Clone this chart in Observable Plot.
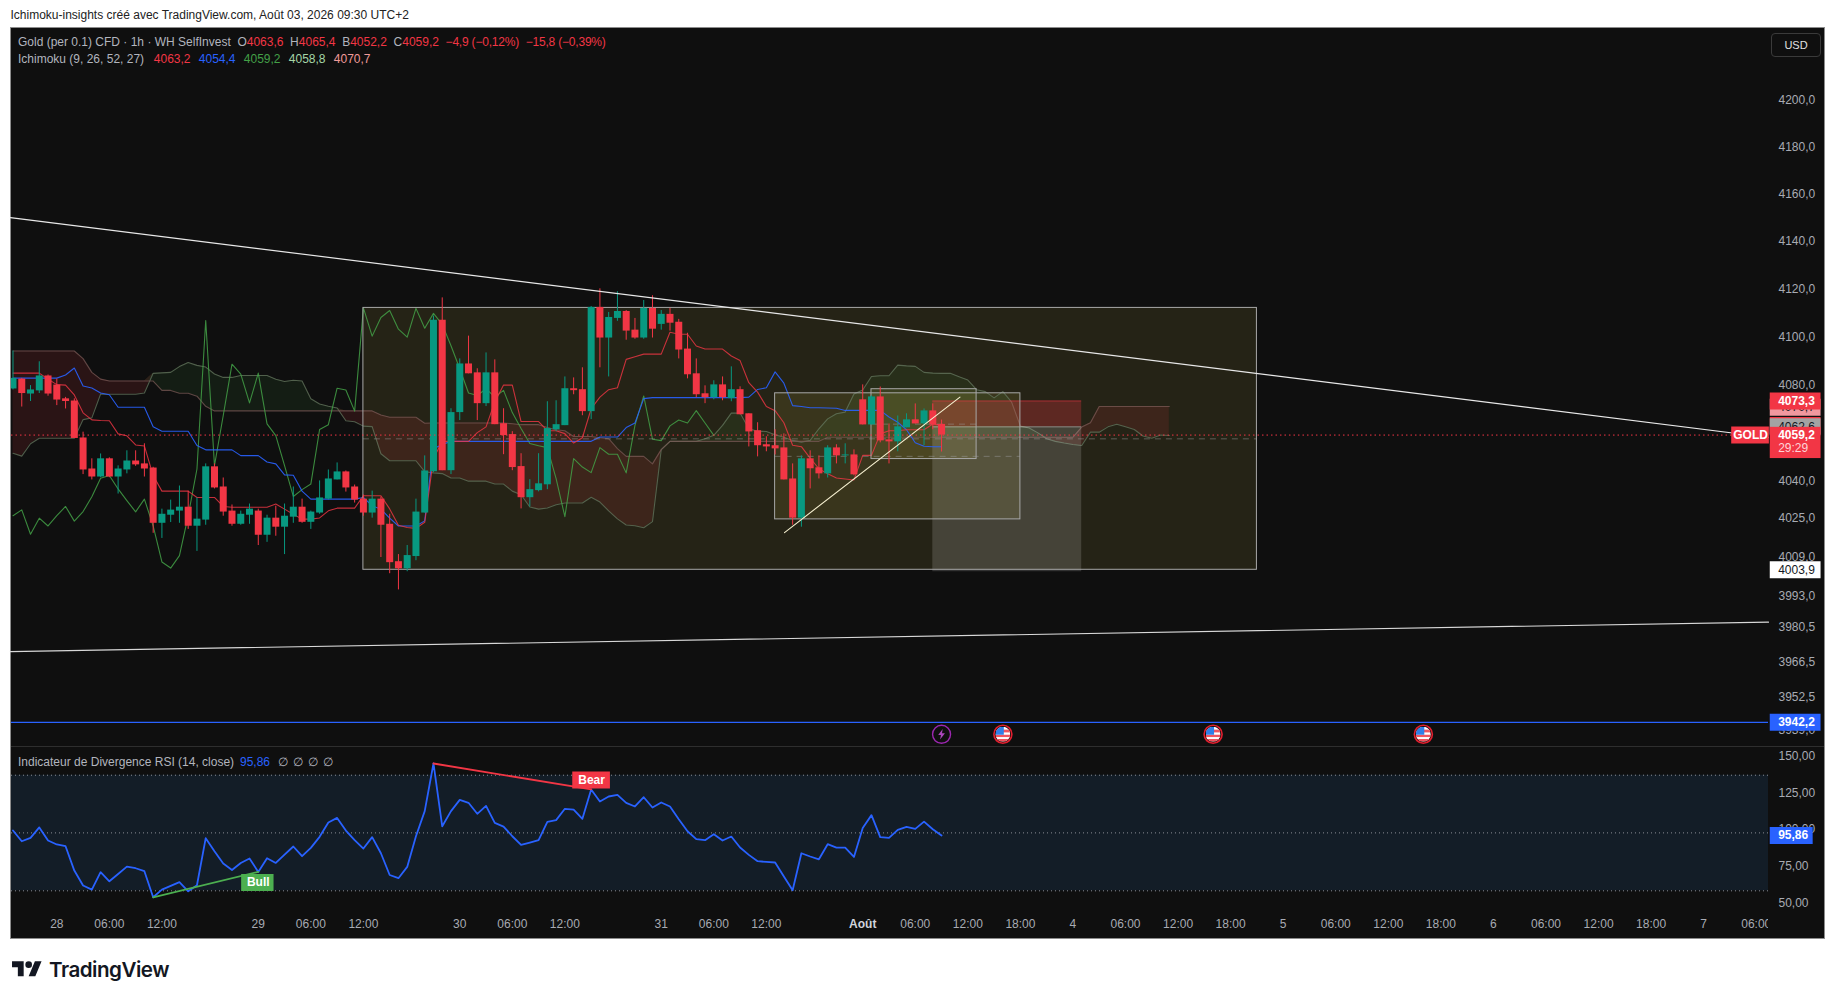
<!DOCTYPE html>
<html lang="fr">
<head>
<meta charset="utf-8">
<title>Gold CFD Ichimoku</title>
<script src="https://cdn.jsdelivr.net/npm/d3@7"></script>
<script src="https://cdn.jsdelivr.net/npm/@observablehq/plot@0.6"></script>
<style>
html,body{margin:0;padding:0;background:#fff;width:1835px;height:1000px;overflow:hidden;font-family:"Liberation Sans",Arial,sans-serif}
#head{position:absolute;left:10.5px;top:8px;font-size:12px;color:#222;white-space:pre;line-height:14px}
#pane{position:absolute;left:10px;top:27px;width:1813px;height:910px;background:#0f0f0f;border:1px solid #8c8c8c}
#divider{position:absolute;left:11px;top:746px;width:1813px;height:1px;background:#2e2e2e}
#price,#rsi{position:absolute;left:0}
#price{top:-1px}
#rsi{top:747px}
#legend{position:absolute;left:18px;top:34px;font-size:12px;line-height:17px;color:#b2b5be;white-space:pre}
#legend .r{color:#f23645}#legend .b{color:#2962ff}#legend .g{color:#43a047}#legend .lg{color:#a5d6a7}#legend .p{color:#ef9a9a}
#legend .t{letter-spacing:-.2px}
#legend i,#rsilegend i{display:inline-block;font-style:normal}
#legend .w{width:45px}
#rsilegend{position:absolute;left:18px;top:754px;font-size:12px;line-height:17px;color:#b2b5be;white-space:pre}
#rsilegend .b{color:#2962ff}
#usd{position:absolute;left:1771px;top:33px;width:48px;height:22px;border:1px solid #3a3a3a;border-radius:4px;color:#e0e0e0;font-size:11px;line-height:22px;text-align:center}
#brand{position:absolute;left:12px;top:957.5px;display:flex;align-items:flex-start}
#brand span{font-family:Inter,"Liberation Sans",sans-serif;font-weight:600;font-size:20.6px;line-height:24px;color:#131722;margin-left:7px;letter-spacing:-.5px}
</style>
</head>
<body>
<div id="head">Ichimoku-insights créé avec TradingView.com, Août 03, 2026 09:30 UTC+2</div>
<div id="pane"></div>
<div id="price"></div>
<div id="divider"></div>
<div id="rsi"></div>
<div id="legend">Gold (per 0.1) CFD · 1h · WH SelfInvest  O<span class="r">4063,6</span>  H<span class="r">4065,4</span>  B<span class="r">4052,2</span>  C<span class="r">4059,2</span>  <span class="r t">−4,9 (−0,12%)</span>  <span class="r t">−15,8 (−0,39%)</span>
<i style="width:135.8px">Ichimoku (9, 26, 52, 27)</i><i class="r w">4063,2</i><i class="b w">4054,4</i><i class="g w">4059,2</i><i class="lg w">4058,8</i><i class="p w">4070,7</i></div>
<div id="rsilegend"><i style="width:222px">Indicateur de Divergence RSI (14, close)</i><i class="b" style="width:37.5px">95,86</i><i style="width:15px">∅</i><i style="width:15px">∅</i><i style="width:15px">∅</i><i style="width:15px">∅</i></div>
<div id="usd">USD</div>
<div id="brand"><svg width="30" height="23.3" viewBox="0 0 36 28"><path fill="#131722" d="M14 22H7V11H0V4h14v18zM28 22h-8l7.5-18h8L28 22z"/><circle fill="#131722" cx="20" cy="8" r="4"/></svg><span>TradingView</span></div>
<script>
// ---------- candles (one hour per bar) ----------
const opens=[4078.3,4082.4,4076.2,4077.5,4083.7,4079.9,4074.2,4073.3,4058.0,4045.2,
4041.9,4049.4,4041.9,4044.8,4048.5,4047.3,4045.6,4022.9,4026.2,4027.9,
4029.5,4021.7,4024.2,4046.1,4037.8,4027.9,4022.5,4026.2,4027.9,4018.0,
4025.0,4021.3,4025.4,4029.5,4023.3,4027.1,4032.8,4040.7,4044.0,4037.8,
4032.8,4027.1,4032.8,4022.5,4007.2,4004.3,4009.3,4027.1,4044.1,4106.9,
4044.5,4068.5,4088.7,4085.0,4072.2,4085.0,4063.9,4059.4,4046.2,4033.4,
4036.3,4038.7,4061.4,4063.1,4078.4,4078.0,4068.9,4112.3,4099.5,4107.7,
4110.6,4102.8,4099.5,4111.9,4105.2,4109.4,4106.1,4094.9,4084.6,4076.3,
4074.7,4080.0,4074.3,4078.0,4068.0,4061.0,4055.2,4054.8,4053.9,4041.1,
4025.0,4049.4,4045.7,4043.2,4053.9,4050.6,4051.0,4073.8,4063.4,4075.0,
4057.2,4056.4,4062.2,4065.5,4063.8,4069.2,4063.6];
const highs=[4094.1,4082.7,4079.7,4089.6,4084.1,4082.4,4074.8,4074.2,4060.4,4049.4,
4051.4,4049.8,4046.5,4052.7,4052.7,4055.6,4045.9,4028.7,4032.4,4038.2,
4036.1,4033.3,4047.3,4047.3,4041.5,4030.4,4027.9,4030.8,4028.7,4026.2,
4029.9,4030.8,4037.8,4032.8,4027.9,4040.3,4044.8,4047.7,4044.4,4038.6,
4034.5,4036.1,4033.7,4026.6,4010.1,4013.8,4032.8,4050.6,4108.7,4116.3,
4070.1,4090.8,4100.3,4086.7,4093.3,4090.4,4070.1,4060.6,4051.5,4040.8,
4051.5,4073.0,4073.4,4083.3,4082.9,4087.1,4112.7,4120.1,4110.2,4118.9,
4111.0,4107.7,4115.2,4117.2,4111.0,4111.9,4107.3,4101.5,4090.8,4079.6,
4081.7,4083.3,4087.5,4079.2,4068.0,4064.3,4058.5,4061.4,4059.7,4047.3,
4050.6,4052.7,4050.6,4054.8,4055.2,4055.6,4053.1,4080.0,4075.4,4079.1,
4063.8,4067.1,4068.0,4072.1,4070.0,4072.1,4065.4];
const lows=[4077.9,4070.8,4073.1,4076.4,4075.3,4071.4,4070.0,4057.8,4042.9,4040.7,
4041.6,4041.6,4034.9,4043.2,4046.3,4041.9,4018.8,4016.7,4023.2,4022.9,
4020.4,4011.4,4022.1,4037.0,4025.8,4021.7,4022.1,4022.5,4013.8,4015.1,
4017.6,4010.1,4022.9,4022.9,4020.4,4026.6,4032.4,4040.7,4035.7,4031.2,
4025.8,4025.0,4008.9,4002.3,3995.7,4003.1,4007.6,4027.1,4043.7,4044.5,
4042.9,4065.2,4084.6,4065.2,4071.0,4063.5,4051.1,4044.5,4028.8,4029.6,
4035.8,4036.7,4060.6,4063.1,4075.9,4067.2,4065.6,4087.1,4083.3,4106.5,
4098.6,4099.0,4099.0,4099.5,4102.8,4102.4,4090.8,4082.5,4074.7,4072.2,
4073.8,4073.4,4073.0,4067.6,4054.3,4050.2,4052.3,4051.0,4040.7,4022.1,
4021.3,4037.0,4041.1,4041.5,4047.3,4047.3,4042.4,4063.4,4063.4,4056.0,
4047.3,4052.3,4062.2,4063.8,4054.8,4061.4,4052.2];
const closes=[4082.7,4076.4,4077.9,4083.7,4076.2,4073.7,4073.1,4057.8,4044.8,4041.9,
4049.4,4041.9,4045.2,4048.5,4046.9,4045.2,4022.9,4026.6,4028.3,4029.5,
4021.7,4024.6,4046.1,4037.4,4027.5,4022.5,4026.6,4028.7,4018.0,4025.0,
4021.3,4025.8,4029.5,4023.3,4027.5,4033.3,4041.1,4044.0,4037.4,4032.4,
4027.1,4032.8,4022.1,4006.8,4004.3,4009.7,4027.5,4044.4,4106.9,4044.5,
4068.5,4088.7,4084.6,4072.2,4085.0,4063.5,4059.0,4045.8,4033.4,4036.7,
4039.1,4061.9,4063.5,4078.4,4077.6,4068.9,4112.3,4099.5,4108.1,4110.6,
4102.4,4099.5,4111.9,4103.2,4109.4,4105.7,4094.5,4084.2,4075.9,4074.7,
4080.0,4074.7,4078.0,4067.6,4060.5,4054.8,4054.3,4053.5,4040.7,4025.0,
4049.4,4045.3,4043.2,4053.9,4050.6,4051.0,4042.8,4063.4,4075.0,4056.8,
4056.4,4062.6,4065.5,4063.8,4069.2,4063.4,4059.2];
// ---------- Ichimoku ----------
const tenkan=[4084.9,4084.9,4084.9,4084.9,4082.4,4080.1,4079.9,4075.8,4068.4,4065.5,
4065.2,4065.1,4059.7,4058.9,4055.1,4054.7,4042.5,4036.1,4036.1,4036.1,
4036.1,4033.5,4033.5,4033.5,4029.8,4029.5,4029.5,4029.5,4029.5,4029.5,
4030.8,4028.7,4026.6,4024.6,4024.6,4025.1,4028.0,4029.1,4029.1,4029.1,
4034.2,4034.2,4034.2,4028.8,4022.1,4021.2,4020.8,4023.3,4049.5,4056.6,
4056.6,4056.6,4056.6,4060.2,4062.6,4072.9,4079.9,4079.9,4064.8,4064.8,
4064.8,4061.0,4061.0,4059.8,4055.9,4058.1,4070.1,4074.9,4078.0,4078.8,
4090.6,4091.7,4092.8,4092.8,4092.8,4101.9,4101.1,4101.1,4096.2,4094.9,
4094.9,4094.9,4092.0,4090.1,4080.9,4077.0,4071.0,4069.3,4064.3,4055.0,
4054.4,4049.7,4045.3,4043.2,4041.5,4041.1,4040.7,4050.8,4050.8,4059.7,
4061.0,4061.0,4061.4,4061.4,4061.4,4063.8,4063.2];
const kijun=[4082.8,4082.8,4082.8,4082.8,4082.8,4082.8,4084.1,4087.0,4079.5,4078.7,
4076.6,4075.9,4070.7,4070.7,4070.7,4070.7,4062.6,4060.8,4060.8,4060.8,
4060.8,4054.9,4053.1,4053.1,4053.1,4053.1,4050.7,4050.7,4050.7,4048.1,
4047.3,4042.8,4042.6,4036.1,4032.8,4032.8,4032.8,4032.8,4032.8,4032.8,
4033.5,4030.1,4028.7,4025.0,4021.8,4021.8,4021.8,4023.9,4053.6,4055.3,
4056.6,4056.6,4056.6,4056.6,4056.6,4056.6,4056.6,4056.6,4056.6,4056.6,
4056.6,4056.6,4056.6,4056.6,4056.6,4056.6,4056.6,4058.4,4058.4,4058.4,
4062.3,4064.2,4074.3,4074.7,4074.7,4074.7,4074.7,4074.7,4074.7,4074.7,
4074.7,4074.7,4074.7,4074.7,4074.9,4078.1,4078.8,4085.4,4080.7,4071.4,
4071.0,4070.5,4070.5,4070.4,4070.3,4069.4,4069.4,4069.4,4069.4,4069.4,
4066.7,4064.5,4061.4,4056.0,4054.6,4054.4,4054.4];
const chikou=[4026.0,4028.4,4018.4,4025.0,4021.8,4026.0,4029.8,4023.8,4027.7,4033.8,
4041.4,4042.5,4037.0,4032.2,4027.6,4032.8,4021.8,4007.1,4004.6,4009.7,
4026.0,4045.2,4106.8,4046.6,4067.3,4088.6,4084.5,4072.5,4084.9,4063.8,
4059.0,4046.6,4033.9,4036.7,4039.0,4061.5,4063.5,4078.6,4077.9,4069.1,
4112.1,4100.3,4108.1,4111.0,4103.2,4099.9,4111.9,4103.6,4109.8,4105.2,
4096.3,4086.7,4076.6,4075.6,4078.4,4074.9,4077.7,4068.5,4061.9,4055.7,
4054.8,4054.0,4041.2,4025.6,4049.5,4046.0,4043.7,4054.0,4051.3,4051.3,
4043.6,4063.2,4075.4,4057.5,4056.9,4063.0,4065.4,4064.2,4069.3,4064.2,
4059.1];
const senkouA=[4051.7,4050.5,4055.6,4057.9,4057.9,4057.9,4057.9,4057.9,4065.6,4066.3,
4076.2,4076.1,4076.1,4076.1,4076.1,4076.6,4084.8,4085.0,4085.2,4087.6,
4089.3,4088.1,4087.4,4084.5,4083.1,4083.1,4083.9,4083.9,4083.9,4083.9,
4082.3,4081.4,4081.9,4081.6,4074.2,4072.1,4071.1,4070.4,4065.1,4064.7,
4062.9,4062.7,4051.5,4048.6,4048.6,4048.6,4048.6,4044.1,4043.6,4043.3,
4041.5,4041.5,4040.2,4040.2,4040.2,4039.0,4039.0,4036.1,4034.6,4029.6,
4028.7,4029.2,4030.5,4031.2,4031.2,4031.2,4033.6,4031.6,4028.0,4024.7,
4022.2,4021.9,4021.1,4023.6,4053.2,4056.6,4056.6,4056.6,4056.6,4057.7,
4059.1,4063.2,4068.3,4068.3,4061.8,4060.8,4060.7,4059.3,4058.3,4057.0,
4056.3,4057.0,4061.8,4065.9,4068.0,4068.7,4076.2,4077.9,4083.5,4083.8,
4083.8,4088.2,4087.9,4087.7,4085.2,4084.9,4084.8,4084.8,4083.4,4082.0,
4078.0,4077.2,4074.6,4077.2,4072.8,4062.9,4062.1,4060.1,4057.7,4056.6,
4055.9,4055.3,4054.9,4060.4,4060.4,4062.6,4063.7,4062.6,4061.5,4058.8,
4057.9,4059.2,4059.0];
const senkouB=[4094.1,4094.1,4094.1,4094.1,4094.1,4094.1,4094.1,4094.1,4090.9,4085.2,
4082.4,4081.6,4081.6,4081.6,4081.6,4081.6,4081.6,4077.7,4077.7,4076.5,
4076.5,4075.3,4071.1,4069.2,4069.2,4069.2,4069.2,4069.2,4069.2,4069.2,
4069.2,4069.2,4069.2,4069.2,4069.2,4069.2,4069.2,4069.2,4069.2,4069.2,
4069.2,4069.2,4067.5,4066.6,4066.6,4066.6,4066.6,4064.1,4064.2,4064.2,
4064.2,4064.2,4064.2,4064.2,4064.2,4064.2,4064.2,4063.9,4063.5,4063.5,
4063.5,4062.3,4061.4,4061.0,4058.6,4058.6,4058.6,4058.1,4057.7,4053.6,
4050.4,4050.4,4050.4,4047.3,4053.2,4056.6,4056.6,4056.6,4056.6,4056.6,
4056.6,4056.6,4056.6,4056.6,4056.6,4056.6,4056.6,4056.6,4056.6,4056.6,
4056.6,4056.6,4056.6,4058.3,4058.3,4058.3,4058.3,4058.3,4058.3,4058.3,
4058.3,4058.3,4058.3,4058.3,4058.3,4058.3,4058.3,4058.3,4058.3,4058.3,
4058.3,4058.3,4058.3,4058.3,4058.3,4058.3,4058.3,4058.3,4058.3,4058.3,
4058.3,4058.3,4062.5,4064.3,4071.0,4071.0,4071.0,4071.0,4071.0,4071.0,
4071.0,4071.0,4071.0];
// ---------- RSI ----------
const rsi=[99.3,92.0,94.3,101.4,92.5,89.8,88.6,72.0,61.8,59.0,
70.9,64.7,69.7,74.7,73.6,71.6,53.8,59.0,61.6,64.1,
57.9,62.0,94.1,85.2,76.8,72.4,77.2,80.2,71.1,80.4,
77.2,82.9,88.4,81.8,87.5,95.0,104.8,107.9,99.3,92.7,
87.0,94.8,83.8,69.0,66.8,74.5,95.4,112.5,145.0,102.2,
112.5,120.2,118.2,110.7,116.1,104.5,102.0,95.4,89.5,91.1,
92.7,105.2,106.4,114.1,113.6,107.3,127.3,119.1,122.5,123.6,
118.2,115.7,122.0,115.0,118.4,115.7,107.0,98.8,93.4,92.7,
96.8,92.5,95.2,87.7,82.7,78.4,77.9,77.5,67.9,58.6,
83.8,81.6,79.7,90.0,87.7,87.7,81.3,101.1,109.8,94.8,
94.3,99.8,101.8,100.4,105.4,100.2,95.86];
const rsiBand=[58.2,97.7,137];
const bullLine=[{i:16,v:53.8},{i:28,v:71.1}];
const bearLine=[{i:48,v:145},{i:66,v:127.3}];
const rsiTicks=[150,125,100,75,50];
// ---------- drawings ----------
const boxes=[
 {x1:40,x2:142,y1:4003.9,y2:4112.1},
 {x1:87,x2:115,y1:4024.5,y2:4076.5},
 {x1:98,x2:110,y1:4049.3,y2:4078.2}];
const stopZone=[{x1:105,x2:122,y1:4062.6,y2:4073.3}];
const targetZone=[{x1:105,x2:122,y1:4003.1,y2:4062.6}];
const upperTrend=[{i:-0.3,p:4150.1},{i:200.4,p:4058.2}];
const lowerTrend=[{i:-0.3,p:3970.7},{i:200.4,p:3982.6}];
const riseTrend=[{i:88.07,p:4019.1},{i:108.1,p:4074.9}];
const supportLevel=3942.2, lastPrice=4059.2;
const priceTicks=[4200,4180,4160,4140,4120,4100,4080,4040,4025,4009,3993,3980.5,3966.5,3952.5,3939];
const tickIdx=[5,11,17,28,34,40,51,57,63,74,80,86,103,109,115,121,127,133,139,145,151,157,163,169,175,181,187,193,199];
const tickTxt=["28","06:00","12:00","29","06:00","12:00","30","06:00","12:00","31","06:00","12:00","06:00","12:00","18:00","4","06:00","12:00","18:00","5","06:00","12:00","18:00","6","06:00","12:00","18:00","7","06:00"];
const boldIdx=[97];
const eventBolt=[106], eventFlag=[113,137,161], eventLevel=3937.4;
const tags=[
 {p:4070.7,t:"4070,7",bg:"#f0989f",fg:"#131722",w:400},
 {p:4063.2,t:"",bg:"#f23645",fg:"#fff",w:600},
 {p:4062.6,t:"4062,6",bg:"#a3a3a3",fg:"#131722",w:400},
 {p:4073.3,t:"4073,3",bg:"#f23645",fg:"#fff",w:600},
 {p:4003.9,t:"4003,9",bg:"#ffffff",fg:"#131722",w:400},
 {p:3942.2,t:"3942,2",bg:"#2962ff",fg:"#fff",w:600}];

const FONT='"Liberation Sans",Arial,sans-serif';
const UP="#089981",DOWN="#f23645",AXIS="#a8abb3";
const fr1=d=>d.toFixed(1).replace(".",",");
const fr2=d=>d.toFixed(2).replace(".",",");
const candles=opens.map((o,i)=>({i,o,h:highs[i],l:lows[i],c:closes[i]}));
const ups=candles.filter(d=>d.c>=d.o), downs=candles.filter(d=>d.c<d.o);
const cloud=senkouA.map((a,i)=>({i,a,b:senkouB[i],top:Math.max(a,senkouB[i])}));
const ix=(d,i)=>i, id=d=>d;
const uri=s=>"data:image/svg+xml,"+encodeURIComponent(s);
const flag=uri('<svg xmlns="http://www.w3.org/2000/svg" viewBox="0 0 16 16"><defs><clipPath id="c"><circle cx="8" cy="8" r="8"/></clipPath></defs><g clip-path="url(#c)"><rect width="16" height="16" fill="#fff"/><rect y="3" width="16" height="3" fill="#f0555f"/><rect y="8.5" width="16" height="2.5" fill="#f0555f"/><rect y="13" width="16" height="3" fill="#f0555f"/><rect width="9" height="8.5" fill="#2f7fe8"/></g></svg>');
const bolt=uri('<svg xmlns="http://www.w3.org/2000/svg" viewBox="0 0 16 16"><path fill="#ab47bc" d="M9.5 1 3.5 9h3.7L6 15l6.5-8.2H8.6z"/></svg>');

const priceChart=Plot.plot({
  width:1835,height:747,marginLeft:11,marginRight:67,marginTop:28,marginBottom:0,
  style:{background:"transparent",fontFamily:FONT,fontSize:"12px",color:AXIS},
  x:{domain:[-0.171,200.4],axis:null},
  y:{type:"log",domain:[3932.5,4231.2]},
  marks:[
    Plot.rect(boxes,{x1:"x1",x2:"x2",y1:"y1",y2:"y2",fill:"#ffeb64",fillOpacity:.095,clip:true}),
    Plot.areaY(cloud,{x:"i",y1:"a",y2:"top",fill:"#f23645",fillOpacity:.12}),
    Plot.areaY(cloud,{x:"i",y1:"b",y2:"top",fill:"#43a047",fillOpacity:.1}),
    Plot.line(senkouA,{x:ix,y:id,stroke:"#66775f",strokeWidth:1.1,strokeOpacity:.75}),
    Plot.line(senkouB,{x:ix,y:id,stroke:"#7a5a55",strokeWidth:1.1,strokeOpacity:.75}),
    Plot.rect(stopZone,{x1:"x1",x2:"x2",y1:"y1",y2:"y2",fill:"#f23645",fillOpacity:.28}),
    Plot.rect(targetZone,{x1:"x1",x2:"x2",y1:"y1",y2:"y2",fill:"#ffffff",fillOpacity:.15}),
    Plot.ruleY(stopZone,{x1:"x1",x2:"x2",y:"y2",stroke:"#f23645",strokeOpacity:.5}),
    Plot.ruleY(targetZone,{x1:"x1",x2:"x2",y:"y2",stroke:"#ffffff",strokeOpacity:.4}),
    Plot.line(chikou,{x:ix,y:id,stroke:"#43a047",strokeWidth:1.1,strokeOpacity:.85,clip:true}),
    Plot.line(kijun,{x:ix,y:id,stroke:"#2962ff",strokeWidth:1.1,strokeOpacity:.9,clip:true}),
    Plot.line(tenkan,{x:ix,y:id,stroke:"#f23645",strokeWidth:1.1,strokeOpacity:.8,clip:true}),
    Plot.ruleY(boxes,{x1:"x1",x2:"x2",y:d=>Math.sqrt(d.y1*d.y2),stroke:"#9a9a9a",strokeOpacity:.5,strokeDasharray:"6 5"}),
    Plot.rect(boxes,{x1:"x1",x2:"x2",y1:"y1",y2:"y2",stroke:"#a8a8a8",strokeWidth:1,fill:"none"}),
    Plot.ruleX(ups,{x:"i",y1:"l",y2:"h",stroke:UP,strokeWidth:1,clip:true}),
    Plot.ruleX(downs,{x:"i",y1:"l",y2:"h",stroke:DOWN,strokeWidth:1,clip:true}),
    Plot.ruleX(ups,{x:"i",y1:"o",y2:"c",stroke:UP,strokeWidth:7,clip:true}),
    Plot.ruleX(downs,{x:"i",y1:"o",y2:"c",stroke:DOWN,strokeWidth:7,clip:true}),
    Plot.line(upperTrend,{x:"i",y:"p",stroke:"#e8e8e8",strokeWidth:1.2}),
    Plot.line(lowerTrend,{x:"i",y:"p",stroke:"#d8d8d8",strokeWidth:1.2}),
    Plot.line(riseTrend,{x:"i",y:"p",stroke:"#f5efcf",strokeWidth:1.1}),
    Plot.ruleY([lastPrice],{stroke:DOWN,strokeDasharray:"1.5 3",strokeWidth:1}),
    Plot.ruleY([supportLevel],{stroke:"#2962ff",strokeWidth:1.2}),
    Plot.dot(eventBolt,{x:id,y:()=>eventLevel,r:9,stroke:"#9c27b0",strokeWidth:1.4,fill:"#0f0f0f"}),
    Plot.image(eventBolt,{x:id,y:()=>eventLevel,width:12,height:12,src:()=>bolt}),
    Plot.dot(eventFlag,{x:id,y:()=>eventLevel,r:9,stroke:"#e21f2f",strokeWidth:1.6,fill:"#0f0f0f"}),
    Plot.image(eventFlag,{x:id,y:()=>eventLevel,width:15,height:15,src:()=>flag}),
    Plot.axisY(priceTicks,{anchor:"right",tickSize:0,tickPadding:10,tickFormat:fr1,label:null,color:AXIS,fontSize:12}),
    // each axis tag is drawn in turn, so a later tag hides the one below it
    ...tags.flatMap(tag=>[
      Plot.ruleY([tag],{y:"p",x1:200.6,x2:206.4,stroke:tag.bg,strokeWidth:17}),
      Plot.text([tag],{y:"p",x:201.5,text:"t",fill:tag.fg,textAnchor:"start",fontSize:12,fontWeight:tag.w})
    ]),
    Plot.rect([lastPrice],{x1:200.6,x2:206.4,y1:()=>4049.5,y2:()=>4062.4,fill:DOWN}),
    Plot.text([lastPrice],{y:id,x:201.5,text:fr1,fill:"#fff",textAnchor:"start",fontSize:12,fontWeight:600}),
    Plot.text(["29:29"],{y:()=>4053.6,x:201.5,text:id,fill:"#ffd3d7",textAnchor:"start",fontSize:12}),
    Plot.ruleY([lastPrice],{x1:196.2,x2:200.5,stroke:DOWN,strokeWidth:17}),
    Plot.text(["GOLD"],{y:()=>lastPrice,x:198.35,text:id,fill:"#fff",fontSize:12,fontWeight:600})
  ]
});
document.getElementById("price").append(priceChart);

const rsiChart=Plot.plot({
  width:1835,height:191,marginLeft:11,marginRight:67,marginTop:0,marginBottom:0,
  style:{background:"transparent",fontFamily:FONT,fontSize:"12px",color:AXIS},
  x:{domain:[-0.171,200.4],axis:null},
  y:{domain:[25.7,155.9]},
  marks:[
    Plot.rect([rsiBand],{x1:-0.171,x2:200.4,y1:d=>d[0],y2:d=>d[2],fill:"#131d27"}),
    Plot.ruleY(rsiBand,{stroke:"#8a8d96",strokeDasharray:"1 3",strokeWidth:1}),
    Plot.line(rsi,{x:ix,y:id,stroke:"#2962ff",strokeWidth:1.8,clip:true}),
    Plot.line(bullLine,{x:"i",y:"v",stroke:"#4caf50",strokeWidth:1.8}),
    Plot.line(bearLine,{x:"i",y:"v",stroke:DOWN,strokeWidth:1.8}),
    Plot.ruleY([63.8],{x1:26.1,x2:29.8,stroke:"#4caf50",strokeWidth:17}),
    Plot.text(["Bull"],{x:()=>28,y:()=>63.8,text:id,fill:"#fff",fontSize:12,fontWeight:600}),
    Plot.ruleY([133.8],{x1:63.9,x2:68.2,stroke:DOWN,strokeWidth:17}),
    Plot.text(["Bear"],{x:()=>66.05,y:()=>133.8,text:id,fill:"#fff",fontSize:12,fontWeight:600}),
    Plot.axisY(rsiTicks,{anchor:"right",tickSize:0,tickPadding:10,tickFormat:fr2,label:null,color:AXIS,fontSize:12}),
    Plot.ruleY([rsi[rsi.length-1]],{x1:200.6,x2:205.5,stroke:"#2962ff",strokeWidth:17}),
    Plot.text([rsi[rsi.length-1]],{y:id,x:201.5,text:fr2,fill:"#fff",textAnchor:"start",fontSize:12,fontWeight:600}),
    Plot.axisX(tickIdx,{anchor:"bottom",tickSize:0,tickPadding:-19,tickFormat:d=>tickTxt[tickIdx.indexOf(d)],label:null,color:AXIS,fontSize:12,clip:true}),
    Plot.axisX(boldIdx,{anchor:"bottom",tickSize:0,tickPadding:-19,tickFormat:()=>"Août",label:null,color:"#d1d4dc",fontSize:12,fontWeight:700,clip:true})
  ]
});
document.getElementById("rsi").append(rsiChart);
</script>
</body>
</html>
